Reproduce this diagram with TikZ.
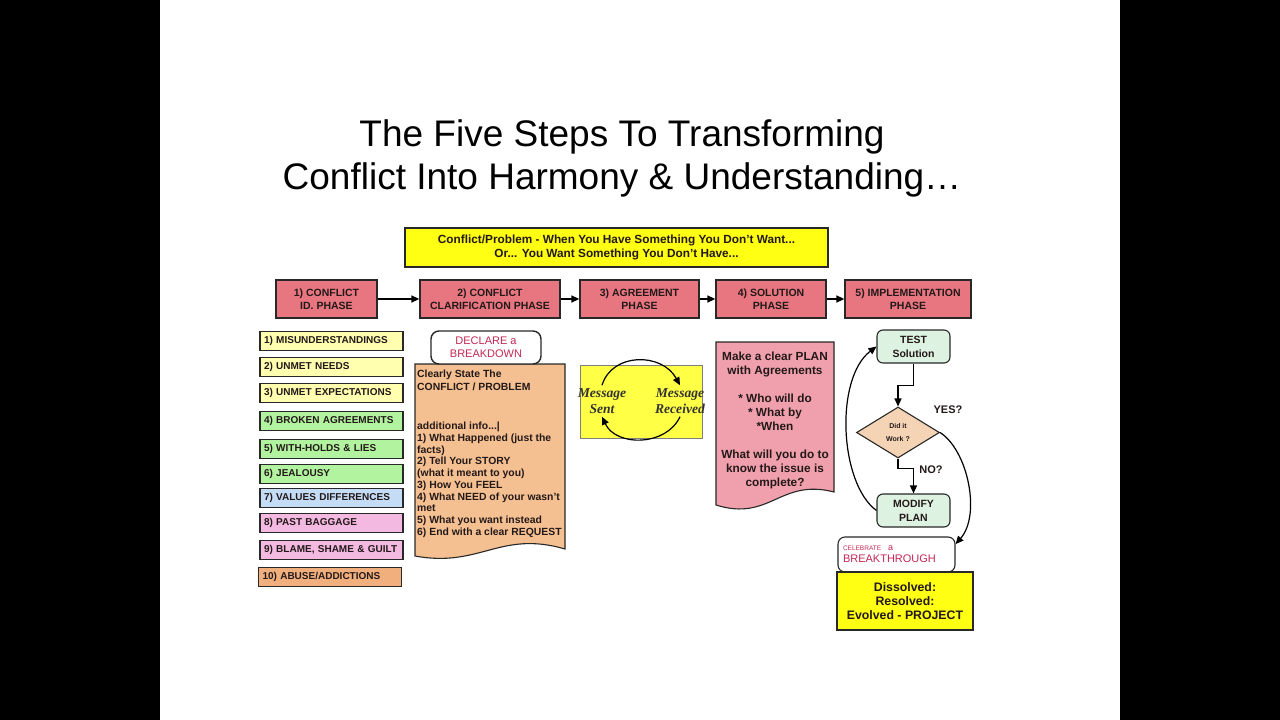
\documentclass[tikz,border=0pt]{standalone}
\usepackage{fontspec}
\setmainfont{Liberation Sans}
\newfontfamily\msgfont{Liberation Serif}
\usetikzlibrary{shapes.geometric, arrows.meta}

\definecolor{txtdark}{RGB}{35,25,25}
\definecolor{edge}{RGB}{40,40,40}
\definecolor{phasepink}{RGB}{231,118,128}
\definecolor{hdryellow}{RGB}{255,255,20}
\definecolor{lyellow}{RGB}{255,255,175}
\definecolor{lgreen}{RGB}{178,243,160}
\definecolor{lblue}{RGB}{196,220,245}
\definecolor{lpink}{RGB}{243,185,225}
\definecolor{lorange}{RGB}{240,175,125}
\definecolor{docorange}{RGB}{245,192,145}
\definecolor{docpink}{RGB}{240,160,172}
\definecolor{msgyellow}{RGB}{255,255,70}
\definecolor{flowgreen}{RGB}{222,242,226}
\definecolor{flowtan}{RGB}{245,212,182}
\definecolor{alertred}{RGB}{195,40,85}

\tikzset{
  box/.style={draw=edge, line width=1.1pt, inner sep=0pt, align=center, text=txtdark},
  title/.style={font=\fontsize{37}{43}\selectfont, text=black, inner sep=0pt},
  phasebox/.style={box, fill=phasepink, line width=1.3pt, minimum width=#1, minimum height=38pt,
    font=\bfseries\fontsize{10.5}{13}\selectfont},
  listbox/.style={box, fill=#1, minimum height=19pt, text width=135pt, inner xsep=4pt, align=left,
    font=\bfseries\fontsize{10}{12}\selectfont},
  flowbox/.style={box, rounded corners=6pt, fill=flowgreen, minimum width=73pt, minimum height=33pt,
    font=\bfseries\fontsize{10.5}{14}\selectfont},
  msgtext/.style={inner sep=3pt, align=center, text=black!80,
    font=\msgfont\bfseries\itshape\fontsize{13.6}{16}\selectfont},
  tag/.style={inner sep=0pt, text=txtdark, font=\bfseries\fontsize{11}{13}\selectfont},
  docline/.style={draw=edge, line width=1.1pt},
  arr/.style={line width=1.5pt, -{Triangle[length=8pt,width=7pt]}},
  flow/.style={line width=1.2pt, -{Triangle[length=8pt,width=7pt]}},
}

\begin{document}
\begin{tikzpicture}[x=1pt, y=-1pt]
        \useasboundingbox (0,0) rectangle (1280,720);
        \fill[black] (0,0) rectangle (1280,720);
        \fill[white] (160,0) rectangle (1120,720);

        % ===================================================
        % 1. TITLE & PROBLEM STATEMENT
        % ===================================================
        \node[title, anchor=base] (t1) at (622,146) {The Five Steps To Transforming};
        \node[title, anchor=base] (t2) at (622,189) {Conflict Into Harmony \& Understanding…};

        \node[box, fill=hdryellow, minimum width=423pt, minimum height=39pt,
              font=\bfseries\fontsize{11.8}{14}\selectfont] (hdr) at (616.5,247.5)
              {Conflict/Problem - When You Have Something You Don't Want...\\Or... You Want Something You Don't Have...};

        % ===================================================
        % 2. THE FIVE PHASES
        % ===================================================
        \node[phasebox=101pt] (ph1) at (326.5,299) {1) CONFLICT\\ID. PHASE};
        \node[phasebox=140pt] (ph2) at (490,299) {2) CONFLICT\\CLARIFICATION PHASE};
        \node[phasebox=119pt] (ph3) at (639.5,299) {3) AGREEMENT\\PHASE};
        \node[phasebox=110pt] (ph4) at (771,299) {4) SOLUTION\\PHASE};
        \node[phasebox=126pt] (ph5) at (908,299) {5) IMPLEMENTATION\\PHASE};

        \draw[arr] (ph1) -- (ph2);
        \draw[arr] (ph2) -- (ph3);
        \draw[arr] (ph3) -- (ph4);
        \draw[arr] (ph4) -- (ph5);

        % ===================================================
        % 3. CONFLICT ID LIST
        % ===================================================
        \node[listbox=lyellow] (l1) at (331.5,341) {1) MISUNDERSTANDINGS};
        \node[listbox=lyellow] (l2) at (331.5,367) {2) UNMET NEEDS};
        \node[listbox=lyellow] (l3) at (331.5,393) {3) UNMET EXPECTATIONS};
        \node[listbox=lgreen] (l4) at (331.5,421) {4) BROKEN AGREEMENTS};
        \node[listbox=lgreen] (l5) at (331.5,449) {5) WITH-HOLDS \& LIES};
        \node[listbox=lgreen] (l6) at (331.5,474) {6) JEALOUSY};
        \node[listbox=lblue] (l7) at (331.5,498) {7) VALUES DIFFERENCES};
        \node[listbox=lpink] (l8) at (331.5,523) {8) PAST BAGGAGE};
        \node[listbox=lpink] (l9) at (331.5,550) {9) BLAME, SHAME \& GUILT};
        \node[listbox=lorange] (l10) at (330,577) {10) ABUSE/ADDICTIONS};

        % ===================================================
        % 4. CLARIFICATION DOCUMENT
        % ===================================================
        \draw[docline, fill=docorange] (415,364) -- (565,364) -- (565,549)
              .. controls (500,530) and (480,568) .. (415,556) -- cycle;
        \node[anchor=north west, align=left, inner sep=0pt, text=txtdark,
              font=\bfseries\fontsize{10.4}{11.7}\selectfont] (clar) at (417,370)
              {Clearly State The\\[1.3pt]CONFLICT / PROBLEM\\[27.4pt]additional info...|\\1) What Happened (just the\\facts)\\2) Tell Your STORY\\(what it meant to you)\\3) How You FEEL\\4) What NEED of your wasn't\\met\\5) What you want instead\\6) End with a clear REQUEST};

        \node[box, fill=white, rounded corners=8pt, line width=1.4pt, minimum width=110pt,
              minimum height=33pt, text=alertred, font=\fontsize{11}{13}\selectfont] (decl)
              at (486,347.5) {DECLARE a\\BREAKDOWN};

        % ===================================================
        % 5. AGREEMENT LOOP
        % ===================================================
        \node[box, fill=msgyellow, draw=edge!60, line width=0.6pt, minimum width=122pt,
              minimum height=73pt] (msg) at (641,401.5) {};
        \node[msgtext] (sent) at (602,401) {Message\\Sent};
        \node[msgtext] (recv) at (680,401) {Message\\Received};

        \draw[flow] (sent.north) .. controls +(10,-33) and +(-18,-33) .. (recv.north);
        \draw[flow] (recv.south) .. controls +(-14,30) and +(14,30) .. (sent.south);

        % ===================================================
        % 6. SOLUTION DOCUMENT
        % ===================================================
        \draw[docline, fill=docpink] (716,342) -- (834,342) -- (834,492)
              .. controls (780,478) and (770,522) .. (716,505) -- cycle;
        \node[anchor=north, align=center, inner sep=0pt, text=txtdark,
              font=\bfseries\fontsize{11.8}{14}\selectfont] (plan) at (775,351.5)
              {Make a clear PLAN\\with Agreements\\[14pt]* Who will do\\* What by\\*When\\[14pt]What will you do to\\know the issue is\\complete?};

        % ===================================================
        % 7. IMPLEMENTATION LOOP
        % ===================================================
        \node[flowbox] (test) at (913.5,346.5) {TEST\\Solution};
        \node[diamond, draw=edge, line width=1.1pt, fill=flowtan, aspect=1.6, minimum width=83pt,
              minimum height=51pt, inner sep=0pt, align=center, text=txtdark,
              font=\bfseries\fontsize{7}{13}\selectfont] (did) at (898,432.5) {Did it\\Work ?};
        \node[flowbox] (mod) at (913.5,510.5) {MODIFY\\PLAN};

        \node[tag] (yes) at (948,410) {YES?};
        \node[tag] (no) at (931,470) {NO?};

        \node[box, fill=white, rounded corners=7pt, minimum height=35pt, text width=107pt,
              inner xsep=5pt, align=left, text=alertred, font=\fontsize{11}{12}\selectfont] (cel)
              at (896.5,554.5) {{\fontsize{6.5}{8}\selectfont CELEBRATE}\hspace{7pt}{\fontsize{9}{10}\selectfont a}\\BREAKTHROUGH};
        \node[box, fill=hdryellow, minimum width=136pt, minimum height=58pt,
              font=\bfseries\fontsize{12.3}{14}\selectfont] (dis) at (905,601)
              {Dissolved:\\Resolved:\\Evolved - PROJECT};

        \draw[flow] (test.south) -- ++(0,22) -| (did.north);
        \draw[flow] (did.south) -- ++(0,10) -| (mod.north);
        \draw[flow] (mod.west) .. controls +(-37,-27) and +(-42,32) .. (test.west);
        \draw[flow] (did.east) .. controls +(28,18) and +(25.5,-29) .. (cel.10);

    \end{tikzpicture}
\end{document}
